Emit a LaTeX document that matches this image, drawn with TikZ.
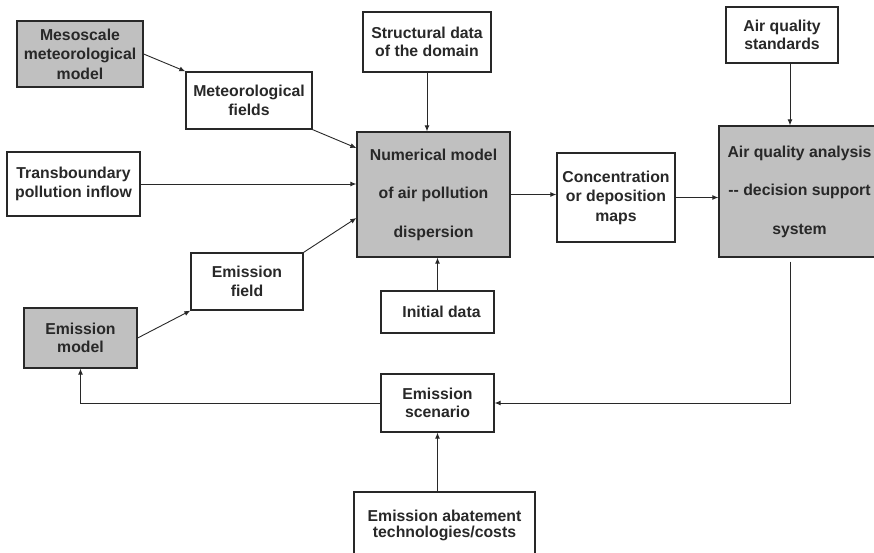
\documentclass[tikz,border=0pt]{standalone}
\usepackage{fontspec}
\setmainfont{Liberation Sans}
\usetikzlibrary{arrows.meta,calc}
\definecolor{boxgray}{RGB}{192,192,192}
\definecolor{ink}{RGB}{40,40,40}
\begin{document}
\begin{tikzpicture}[x=1pt,y=-1pt,
  box/.style={draw=ink,line width=1.3pt,fill=white,inner sep=0pt,align=center,
    font=\bfseries\fontsize{15.8}{18.5}\selectfont,text=ink},
  graybox/.style={box,fill=boxgray},
  wide/.style={font=\bfseries\fontsize{15.8}{38.5}\selectfont},
  mid/.style={font=\bfseries\fontsize{15.8}{19.5}\selectfont},
  conn/.style={draw=ink,line width=0.9pt,-{Latex[length=6pt,width=5pt]}},
  plain/.style={draw=ink,line width=0.9pt}]
\clip (0,0) rectangle (874,552);
\fill[white] (0,0) rectangle (874,552);
% boxes
\node[graybox,mid,minimum width=126pt,minimum height=66pt] (meso) at (80,54)
  {Mesoscale\\meteorological\\model};
\node[box,minimum width=126pt,minimum height=57pt] (metf) at (249,100.5) {Meteorological\\fields};
\node[box,minimum width=128pt,minimum height=60pt] (struct) at (427,42) {Structural data\\of the domain};
\node[graybox,wide,minimum width=153pt,minimum height=125pt] (num) at (433.5,194.5)
  {Numerical model\\of air pollution\\dispersion};
\node[box,minimum width=133pt,minimum height=64pt] (trans) at (73.5,184) {Transboundary\\pollution inflow};
\node[box,mid,minimum width=118pt,minimum height=89pt] (conc) at (616,197.5)
  {Concentration\\or deposition\\maps};
\node[box,minimum width=112pt,minimum height=56pt] (aqs) at (782,35) {Air quality\\standards};
\node[graybox,wide,minimum width=161pt,minimum height=131pt] (aqa) at (799.5,191.5)
  {Air quality analysis\\-{}- decision support\\system};
\node[box,minimum width=112pt,minimum height=57pt] (emf) at (247,281.5) {Emission\\field};
\node[box,minimum width=113pt,minimum height=42pt] (init) at (437.5,312) {\hspace*{8pt}Initial data};
\node[graybox,minimum width=113pt,minimum height=60pt] (emm) at (80.5,338) {Emission\\model};
\node[box,minimum width=113pt,minimum height=58pt] (scen) at (437.5,403) {Emission\\scenario};
\node[box,minimum width=181pt,minimum height=68pt] (abat) at (444.5,526)
  {\raisebox{8pt}{\begin{tabular}{@{}c@{}}Emission abatement\\[-2pt]technologies/costs\end{tabular}}};
% connectors
\draw[conn] (meso.east) -- (metf.north west);
\draw[conn] (metf.south east) -- ([yshift=46.5pt]num.west);
\draw[conn] (trans.east) -- (trans.east -| num.west);
\draw[conn] (emm.east) -- (emf.south west);
\draw[conn] (emf.north east) -- ([yshift=-23.5pt]num.west);
\draw[conn] (struct.south) -- (struct.south |- num.north);
\draw[conn] (init.north) -- (init.north |- num.south);
\draw[conn] (num.east) -- (num.east -| conc.west);
\draw[conn] (conc.east) -- (conc.east -| aqa.west);
\draw[conn] ([xshift=8pt]aqs.south) -- ([xshift=8pt]aqs.south |- aqa.north);
\coordinate (fb) at ([xshift=8pt,yshift=-4pt]aqs.south |- aqa.south);
\draw[conn] (fb) |- (scen.east);
\draw[conn] (scen.west) -| (emm.south);
\draw[conn] (scen.south |- abat.north) -- (scen.south);
\end{tikzpicture}
\end{document}
